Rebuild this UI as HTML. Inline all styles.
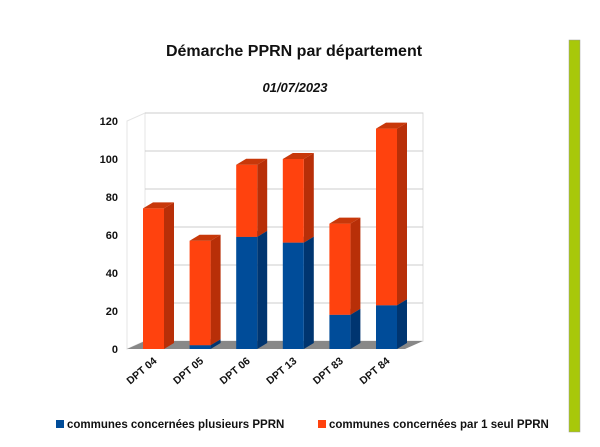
<!DOCTYPE html>
<html><head><meta charset="utf-8"><style>
body{margin:0;background:#fff;width:600px;height:442px;overflow:hidden;font-family:"Liberation Sans",sans-serif}
</style></head><body>
<svg width="600" height="442" viewBox="0 0 600 442" xmlns="http://www.w3.org/2000/svg">
<text x="294" y="56" text-anchor="middle" font-size="16" font-weight="bold" fill="#111">Démarche PPRN par département</text>
<text x="295" y="92" text-anchor="middle" font-size="13" font-weight="bold" font-style="italic" fill="#111">01/07/2023</text>
<rect x="569" y="40" width="11" height="392" fill="#a8c80a" stroke="#999" stroke-width="0.5"/>
<g id="plot"></g>
<g>
<rect x="56" y="420" width="8" height="8" fill="#004c99"/>
<text x="67" y="428" font-size="11.5" font-weight="bold" fill="#111">communes concernées plusieurs PPRN</text>
<rect x="318" y="420" width="8" height="8" fill="#ff420e"/>
<text x="329" y="428" font-size="11.5" font-weight="bold" fill="#111">communes concernées par 1 seul PPRN</text>
</g>
</svg>
<script>
const categories=["DPT 04","DPT 05","DPT 06","DPT 13","DPT 83","DPT 84"];
const plusieurs=[0,2,59,56,18,23];
const seul=[74,55,38,44,48,93];
const yTicks=[0,20,40,60,80,100,120];
const NS="http://www.w3.org/2000/svg";
const g=document.getElementById('plot');
const y0=349,ppu=1.9,dx=18,dy=-8,left=127,right=405;
const y=v=>y0-v*ppu;
const x0=143,step=46.6,bw=21,bdx=10,bdy=-6;
function mk(t,a){const e=document.createElementNS(NS,t);for(const k in a)e.setAttribute(k,a[k]);g.appendChild(e);return e;}
// back wall
let w=mk('rect',{x:left+dx,y:y(120)+dy,width:right-left,height:120*ppu,fill:'#fff',stroke:'#ddd'});


let sw=mk('polygon',{points:`${left},${y(0)} ${left+dx},${y(0)+dy} ${left+dx},${y(120)+dy} ${left},${y(120)}`,fill:'#fff',stroke:'#e4e4e4'});


yTicks.forEach(v=>{
 if(v>0){let l=mk('line',{x1:left+dx,x2:right+dx,y1:y(v)+dy,y2:y(v)+dy,stroke:'#ccc','stroke-width':1});
 
 }
 let t=mk('text',{x:118,y:y(v)+4,'text-anchor':'end','font-size':11,'font-weight':'bold',fill:'#111'});
 t.textContent=v;
 
 
});
let fl=mk('polygon',{points:`${left},${y0} ${right},${y0} ${right+dx},${y0+dy} ${left+dx},${y0+dy}`,fill:'#888'});


function box(x,b,t,front,side,top,name){
 if(t<=b)return;
 const yb=y(b),yt=y(t);
 let s=mk('polygon',{points:`${x+bw},${yb} ${x+bw+bdx},${yb+bdy} ${x+bw+bdx},${yt+bdy} ${x+bw},${yt}`,fill:side});
 
 
 let f=mk('rect',{x:x,y:yt,width:bw,height:yb-yt,fill:front});
 
 
 let tp=mk('polygon',{points:`${x},${yt} ${x+bw},${yt} ${x+bw+bdx},${yt+bdy} ${x+bdx},${yt+bdy}`,fill:top});
 
 
}
categories.forEach((c,i)=>{
 const x=x0+i*step;
 box(x,0,plusieurs[i],'#004c99','#003570','#1a5fa8','bar-plusieurs-'+c.replace(' ','-').toLowerCase());
 box(x,plusieurs[i],plusieurs[i]+seul[i],'#ff420e','#b82f08','#c8380a','bar-seul-'+c.replace(' ','-').toLowerCase());
 const cx=x+bw/2+4,cy=362;
 let t=mk('text',{x:cx,y:cy,'text-anchor':'end','font-size':10.5,'font-weight':'bold',fill:'#111',transform:`rotate(-40 ${cx} ${cy})`});
 t.textContent=c;
 
 
});
</script>
</body></html>
